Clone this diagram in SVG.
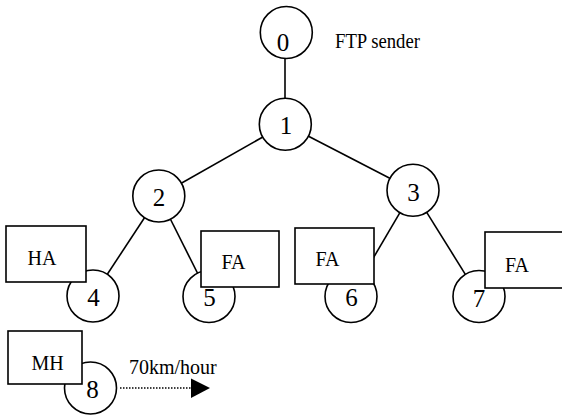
<svg xmlns="http://www.w3.org/2000/svg" width="562" height="415" viewBox="0 0 562 415">
<style>
  .c { fill: #fff; stroke: #000; stroke-width: 1.6; }
  .b { fill: #fff; stroke: #000; stroke-width: 1.6; }
  .e { stroke: #000; stroke-width: 1.6; fill: none; }
  text { font-family: 'Liberation Serif', 'DejaVu Serif', serif; fill: #000; }
  .d { font-size: 25px; text-anchor: middle; }
  .t { font-size: 20px; text-anchor: middle; }
  .l { font-size: 20px; }
</style>
<rect width="562" height="415" fill="#fff"/>
<g id="connectors">
  <line class="e" x1="285" y1="58" x2="285" y2="99"/>
  <line class="e" x1="285.3" y1="124.2" x2="158.8" y2="196"/>
  <line class="e" x1="285.3" y1="124.2" x2="413" y2="190.3"/>
  <line class="e" x1="158.8" y1="196" x2="93" y2="296"/>
  <line class="e" x1="158.8" y1="196" x2="209" y2="296"/>
  <line class="e" x1="413" y1="190.3" x2="351" y2="296"/>
  <line class="e" x1="413" y1="190.3" x2="479" y2="296.3"/>
  <line x1="120" y1="388" x2="192" y2="388" stroke="#000" stroke-width="1.5" stroke-dasharray="1.5,1.5"/>
  <polygon points="191,378.5 210,388 191,398" fill="#000"/>
</g>
<g id="node0">
  <circle class="c" cx="286.3" cy="32.5" r="26"/>
  <text class="d" x="283" y="50.5">0</text>
  <text class="l" x="335" y="48.3" font-size="22" textLength="85" lengthAdjust="spacingAndGlyphs">FTP sender</text>
</g>
<g id="node1">
  <circle class="c" cx="285.3" cy="124.2" r="26"/>
  <text class="d" x="286" y="134">1</text>
</g>
<g id="node2">
  <circle class="c" cx="158.8" cy="196" r="26"/>
  <text class="d" x="159" y="206">2</text>
</g>
<g id="node3">
  <circle class="c" cx="413" cy="190.3" r="26"/>
  <text class="d" x="413.5" y="201">3</text>
</g>
<g id="node4">
  <circle class="c" cx="93" cy="296" r="26"/>
  <rect class="b" x="6" y="226" width="80" height="56"/>
  <text class="t" x="42" y="265">HA</text>
  <text class="d" x="93.5" y="306">4</text>
</g>
<g id="node5">
  <circle class="c" cx="209" cy="296.5" r="26"/>
  <rect class="b" x="201" y="231" width="78" height="56" stroke-width="2.2"/>
  <text class="t" x="233.5" y="269">FA</text>
  <text class="d" x="209.5" y="306">5</text>
</g>
<g id="node6">
  <circle class="c" cx="351" cy="296.5" r="26"/>
  <rect class="b" x="295" y="228" width="79" height="56"/>
  <text class="t" x="327.5" y="266">FA</text>
  <text class="d" x="351.5" y="306">6</text>
</g>
<g id="node7">
  <circle class="c" cx="479" cy="296.5" r="26"/>
  <rect class="b" x="485" y="232" width="82" height="56"/>
  <text class="t" x="517" y="271.5">FA</text>
  <text class="d" x="479" y="306.5">7</text>
</g>
<g id="node8">
  <circle class="c" cx="90.5" cy="388" r="26"/>
  <rect class="b" x="8" y="331" width="74" height="53"/>
  <text class="t" x="47.5" y="370">MH</text>
  <text class="d" x="92.5" y="398">8</text>
  <text class="l" x="129" y="373.5" font-size="19">70km/hour</text>
</g>
</svg>
